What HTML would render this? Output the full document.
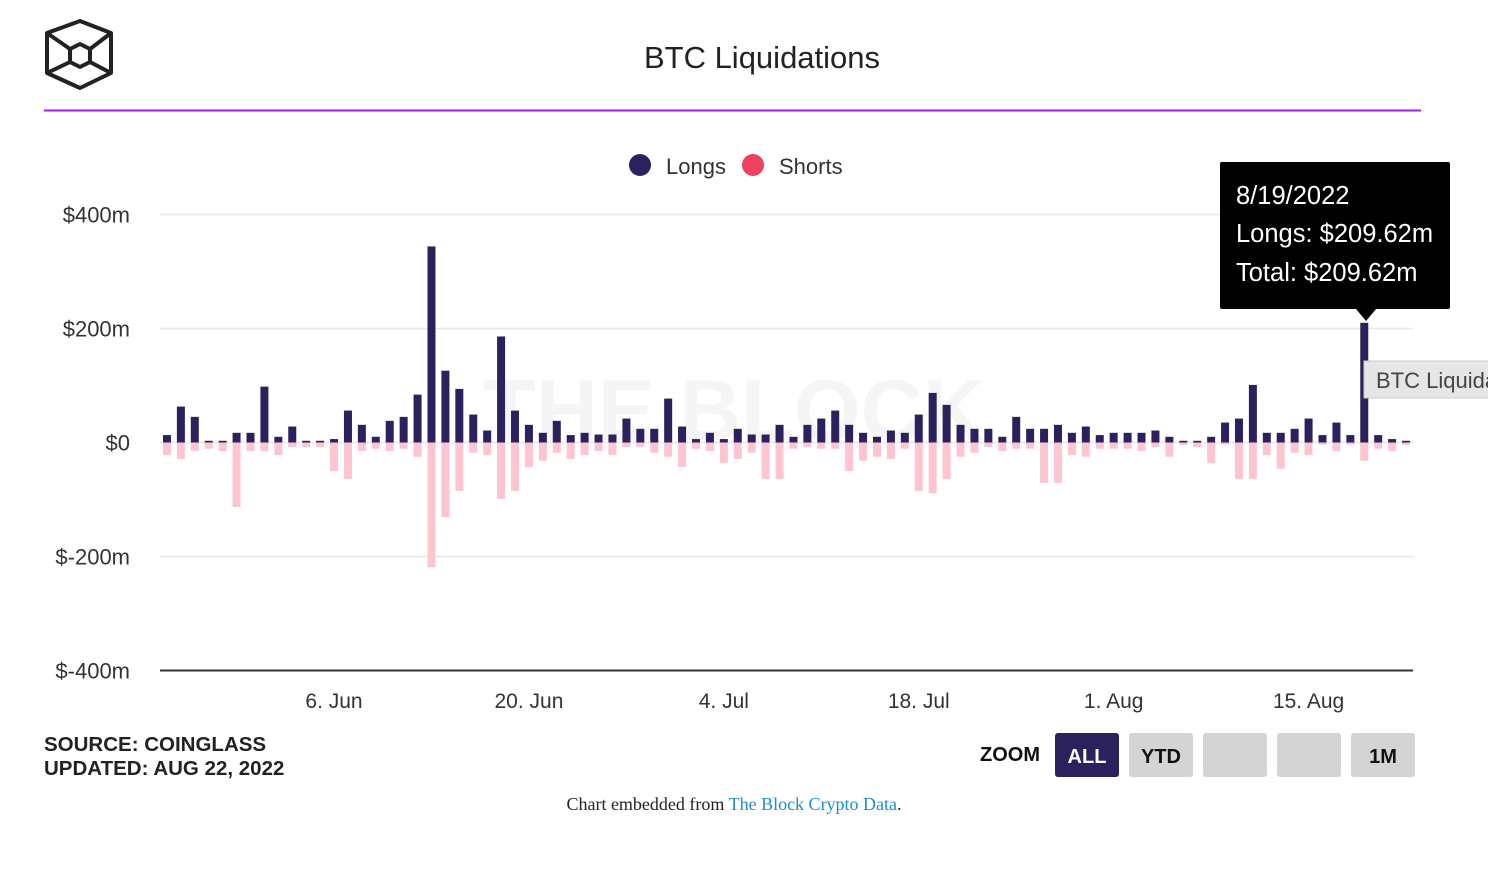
<!DOCTYPE html>
<html><head><meta charset="utf-8">
<style>
html,body{margin:0;padding:0;background:#fff;width:1488px;height:878px;overflow:hidden;font-family:"Liberation Sans",sans-serif}
svg{position:absolute;left:0;top:0}
</style></head>
<body>
<svg id="chart" width="1488" height="878" viewBox="0 0 1488 878">
  <g fill="none" stroke="#222" stroke-width="4" stroke-linejoin="round">
    <polygon points="80,21 111,33 111,73 80,88 47,73 47,33"/>
    <polygon points="80,44 90,49 90,62 80,67 70,62 70,49"/>
    <line x1="47" y1="33" x2="70" y2="49"/><line x1="111" y1="33" x2="90" y2="49"/>
    <line x1="47" y1="73" x2="70" y2="62"/><line x1="111" y1="73" x2="90" y2="62"/>
  </g>
  <text x="762" y="68" text-anchor="middle" font-size="31" fill="#222">BTC Liquidations</text>
  <line x1="44" y1="110.5" x2="1421" y2="110.5" stroke="#9b1fe8" stroke-width="2"/>
  <g font-size="22" fill="#333">
    <g><circle cx="640" cy="165" r="11" fill="#2b215c"/><text x="666" y="174">Longs</text></g>
    <g><circle cx="753" cy="165" r="11" fill="#f0405f"/><text x="779" y="174">Shorts</text></g>
  </g>
  <text x="734" y="440" text-anchor="middle" font-size="86" font-weight="bold" fill="#000" fill-opacity="0.04">THE BLOCK</text>
  <g id="grid"></g>
  <g id="yaxis" font-size="22" fill="#333"></g>
  <g id="bars"></g>
  <line x1="160" y1="670.5" x2="1413" y2="670.5" stroke="#333" stroke-width="2"/>
  <g id="xaxis" font-size="21" fill="#333"></g>
  <g>
    <rect x="1220" y="162" width="230" height="147" rx="2" fill="#000"/>
    <polygon points="1356,309 1376,309 1366,321" fill="#000"/>
    <text x="1236" y="204" font-size="25.5" fill="#fff">8/19/2022</text>
    <text x="1236" y="242" font-size="25.5" fill="#fff">Longs: $209.62m</text>
    <text x="1236" y="281" font-size="25.5" fill="#fff">Total: $209.62m</text>
  </g>
  <g>
    <rect x="1364" y="361" width="130" height="37" fill="#e6e6e6" stroke="#ccc"/>
    <text x="1376" y="388" font-size="22" fill="#444">BTC Liquidations</text>
  </g>
  <text x="44" y="751" font-size="20.5" font-weight="bold" fill="#222">SOURCE: COINGLASS</text>
  <text x="44" y="775" font-size="20.5" font-weight="bold" fill="#222">UPDATED: AUG 22, 2022</text>
  <text x="980" y="761" font-size="20" font-weight="bold" fill="#111">ZOOM</text>
  <g><rect x="1055" y="733" width="64" height="44" rx="3" fill="#2b215c"/><text x="1087" y="763" text-anchor="middle" font-size="20" font-weight="bold" fill="#fff">ALL</text></g>
  <g><rect x="1129" y="733" width="64" height="44" rx="3" fill="#d4d4d4"/><text x="1161" y="763" text-anchor="middle" font-size="20" font-weight="bold" fill="#111">YTD</text></g>
  <g><rect x="1203" y="733" width="64" height="44" rx="3" fill="#d4d4d4"/></g>
  <g><rect x="1277" y="733" width="64" height="44" rx="3" fill="#d4d4d4"/></g>
  <g><rect x="1351" y="733" width="64" height="44" rx="3" fill="#d4d4d4"/><text x="1383" y="763" text-anchor="middle" font-size="20" font-weight="bold" fill="#111">1M</text></g>
  <text x="734" y="810" text-anchor="middle" font-family="Liberation Serif, serif" font-size="18" fill="#222">Chart embedded from <tspan fill="#1a8fc9">The Block Crypto Data</tspan>.</text>
</svg>
<script>
const longs = [13,63,45,3,3,17,17,98,10,28,3,3,6,56,31,10,38,45,84,344,126,94,49,21,186,56,31,17,38,13,
  17,14,14,42,24,24,77,28,6,17,6,24,14,14,31,10,31,42,56,31,17,10,21,17,49,87,66,31,24,24,
  10,45,24,24,31,17,28,13,17,17,17,21,10,3,3,10,35,42,101,17,17,24,42,13,35,13,210,13,6,3];
const shorts = [22,29,15,11,15,113,15,15,22,8,8,8,50,64,15,11,15,11,25,219,131,85,18,22,99,85,43,32,18,29,
  22,15,22,8,8,18,25,43,11,15,36,29,18,64,64,11,8,11,11,50,32,25,29,11,85,89,64,25,18,8,
  15,11,11,71,71,22,25,11,11,11,15,8,25,4,8,36,4,64,64,22,46,18,22,4,15,4,32,11,15,4];
const yTicks = [400,200,0,-200,-400];
const yTickLabels = ["$400m","$200m","$0","$-200m","$-400m"];
const xTickDays = [12,26,40,54,68,82];
const xTickLabels = ["6. Jun","20. Jun","4. Jul","18. Jul","1. Aug","15. Aug"];

const NS = "http://www.w3.org/2000/svg";
const plotL = 160, plotR = 1413, y0 = 442.5, pxPerM = 228/400;
const n = longs.length, dayW = (plotR - plotL) / n;
const yScale = v => y0 - v * pxPerM;
const xCenter = i => plotL + dayW * (i + 0.5);
function mk(tag, attrs){const e=document.createElementNS(NS,tag);for(const k in attrs)e.setAttribute(k,attrs[k]);return e;}

const grid = document.getElementById('grid'), yaxis = document.getElementById('yaxis');
yTicks.forEach((t, i) => {
  if (t !== -400) {
    const l = mk('line', {x1: plotL, x2: plotR, y1: yScale(t), y2: yScale(t), stroke: '#e8e8e8', 'stroke-width': 1.5});
    
    
    grid.appendChild(l);
  }
  const tx = mk('text', {x: 130, y: yScale(t) + 8, 'text-anchor': 'end'});
  tx.textContent = yTickLabels[i];
  
  
  yaxis.appendChild(tx);
});

const xaxis = document.getElementById('xaxis');
xTickDays.forEach((d, i) => {
  const tx = mk('text', {x: xCenter(d), y: 708, 'text-anchor': 'middle'});
  tx.textContent = xTickLabels[i];
  
  
  xaxis.appendChild(tx);
});

const bars = document.getElementById('bars');
const bw = 8;
for (let i = 0; i < n; i++) {
  const x = xCenter(i) - bw / 2;
  const s = mk('rect', {x: x, y: y0, width: bw, height: Math.max(0, yScale(-shorts[i]) - y0), fill: '#fdc5d0'});
  
  
  bars.appendChild(s);
  const top = yScale(longs[i]);
  const l = mk('rect', {x: x, y: top, width: bw, height: Math.max(0, y0 - top), fill: '#2b215c'});
  
  
  bars.appendChild(l);
}
</script>
</body></html>
